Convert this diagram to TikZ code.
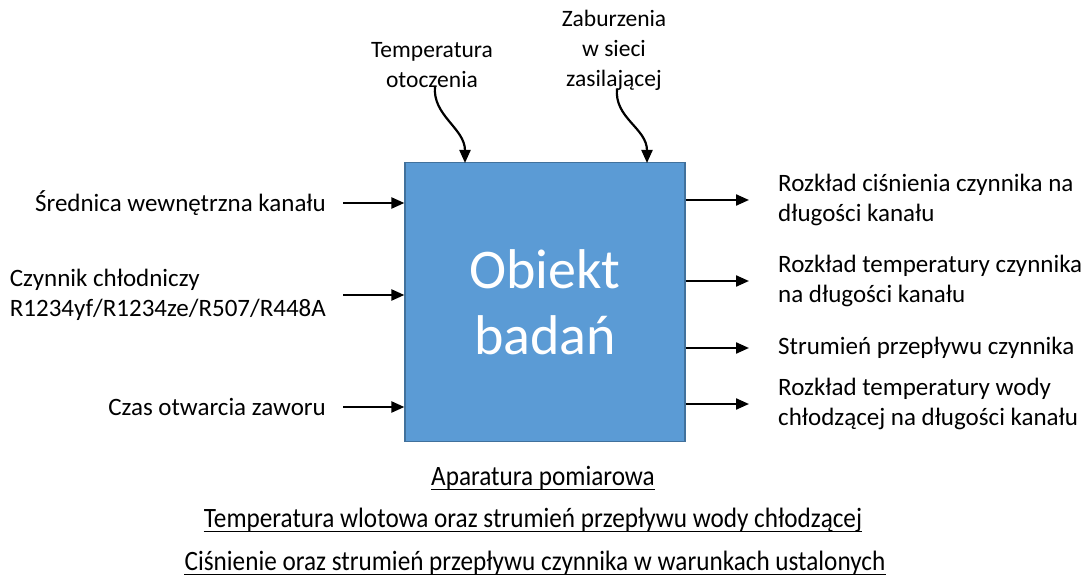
\documentclass[tikz,border=0pt]{standalone}
\usepackage{fontspec}
\setmainfont{Carlito}
\newfontfamily\narrowfont[FakeStretch=0.9]{Carlito}
\usetikzlibrary{arrows.meta,positioning,calc}
\definecolor{boxblue}{HTML}{5B9BD5}
\definecolor{boxedge}{HTML}{41719C}

\begin{document}
\begin{tikzpicture}[x=1pt, y=-1pt,
    label/.style={font=\fontsize{25}{30}\selectfont, inner sep=2pt},
    toplabel/.style={font=\fontsize{23.5}{30}\selectfont, inner sep=2pt, align=center},
    bottomtext/.style={font=\narrowfont\fontsize{28}{30}\selectfont, inner sep=0pt},
    underln/.style={line width=1.2pt, black},
    flowarrow/.style={-{Triangle[length=13pt, width=11pt]}, line width=2.2pt, black}
]
    \useasboundingbox (0,0) rectangle (1092,577);

    % Main block
    \node[draw=boxedge, fill=boxblue, line width=1.2pt, minimum width=280pt, minimum height=279pt,
          text=white, align=center, font=\fontsize{56}{66}\selectfont] (obj) at (545,302) {Obiekt\\badań};

    % Inputs (left)
    \node[label, anchor=east] (srednica) at (328,203) {Średnica wewnętrzna kanału};
    \node[label, anchor=east, align=left] (czynnik) at (328,295) {Czynnik chłodniczy\\R1234yf/R1234ze/R507/R448A};
    \node[label, anchor=east] (czas) at (328,407) {Czas otwarcia zaworu};

    % Disturbances (top)
    \node[toplabel] (otoczenie) at (432,65) {Temperatura\\otoczenia};
    \node[toplabel] (zaburzenia) at (614,50) {Zaburzenia\\w sieci\\zasilającej};

    % Outputs (right)
    \node[label, anchor=west, align=left] (cisnienie) at (776,200) {Rozkład ciśnienia czynnika na\\długości kanału};
    \node[label, anchor=west, align=left] (temperatura) at (776,281) {Rozkład temperatury czynnika\\na długości kanału};
    \node[label, anchor=west] (strumien) at (776,348) {Strumień przepływu czynnika};
    \node[label, anchor=west, align=left] (woda) at (776,404) {Rozkład temperatury wody\\chłodzącej na długości kanału};

    % Measurement equipment (bottom)
    \node[bottomtext] (aparatura) at (543,478) {Aparatura pomiarowa};
    \node[bottomtext] (wlot) at (533,520) {Temperatura wlotowa oraz strumień przepływu wody chłodzącej};
    \node[bottomtext] (ustalone) at (535,563) {Ciśnienie oraz strumień przepływu czynnika w warunkach ustalonych};
    \foreach \n in {aparatura,wlot,ustalone}
        \draw[underln] ($(\n.base west)+(0,4)$) -- ($(\n.base east)+(0,4)$);

    % Input arrows
    \draw[flowarrow] ([xshift=15pt]srednica.east) -- (obj.west |- srednica.east);
    \draw[flowarrow] ([xshift=15pt]czynnik.east) -- (obj.west |- czynnik.east);
    \draw[flowarrow] ([xshift=15pt]czas.east) -- (obj.west |- czas.east);

    % Disturbance arrows
    \coordinate (otoczenie-in) at (465,163);
    \coordinate (zaburzenia-in) at (647,163);
    \draw[flowarrow] ([xshift=3pt,yshift=4pt]otoczenie.south) .. controls +(-3,30) and +(0,-35) .. (otoczenie-in);
    \draw[flowarrow] ([xshift=3pt,yshift=4pt]zaburzenia.south) .. controls +(-3,30) and +(0,-35) .. (zaburzenia-in);

    % Output arrows
    \draw[flowarrow] (obj.east |- cisnienie.west) -- ([xshift=-27pt]cisnienie.west);
    \draw[flowarrow] (obj.east |- temperatura.west) -- ([xshift=-27pt]temperatura.west);
    \draw[flowarrow] (obj.east |- strumien.west) -- ([xshift=-27pt]strumien.west);
    \draw[flowarrow] (obj.east |- woda.west) -- ([xshift=-27pt]woda.west);
\end{tikzpicture}
\end{document}
